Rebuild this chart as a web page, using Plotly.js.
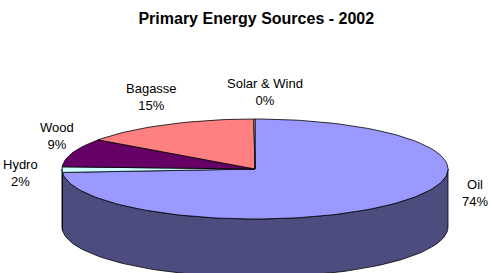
<!DOCTYPE html>
<html>
<head>
<meta charset="utf-8">
<script src="https://cdn.plot.ly/plotly-3.0.1.min.js"></script>
<style>html,body{margin:0;padding:0;background:#fff;}#chart{width:490px;height:273px;}</style>
</head>
<body>
<div id="chart"></div>
<script>
// Data (clockwise from 12 o'clock)
const categories = ["Oil", "Hydro", "Wood", "Bagasse", "Solar & Wind"];
const values = [73.9, 1.8, 9.2, 15.0, 0.1];
const topColors = ["#9999FF", "#CCFFFF", "#660066", "#FF8080", "#FFFFCC"];
const sideColors = ["#4C4C7E", "#668080", "#330033", "#804040", "#808066"];

// Geometry of the pseudo-3D pie (in pixel-like axis units)
const cx = 255, cy = 169, rx = 193, ry = 50, depth = 58;
const total = values.reduce((a, b) => a + b, 0);

function pt(angDeg, dy) {
  const a = angDeg * Math.PI / 180;
  return [cx + rx * Math.cos(a), cy - ry * Math.sin(a) + (dy || 0)];
}

const slices = [];
let start = 90;
values.forEach((v, i) => {
  const sweep = v / total * 360;
  slices.push({ i, a0: start, a1: start - sweep });
  start -= sweep;
});

const traces = [];
// side walls (front half)
slices.forEach(s => {
  const hi = s.a0, lo = s.a1;
  const segs = [];
  for (const k of [-360, 0, 360]) {
    const h = Math.min(hi + k, 0), l = Math.max(lo + k, -180);
    if (h > l) segs.push([h, l]);
  }
  segs.forEach(([h, l]) => {
    const xs = [], ys = [];
    const n = Math.max(2, Math.ceil((h - l) / 2));
    for (let j = 0; j <= n; j++) { const p = pt(h - (h - l) * j / n, 0); xs.push(p[0]); ys.push(p[1]); }
    for (let j = n; j >= 0; j--) { const p = pt(h - (h - l) * j / n, depth); xs.push(p[0]); ys.push(p[1]); }
    xs.push(xs[0]); ys.push(ys[0]);
    traces.push({ type: "scatter", mode: "lines", x: xs, y: ys, fill: "toself",
      fillcolor: sideColors[s.i], line: { color: "#000", width: 0.8 }, hoverinfo: "skip", showlegend: false });
  });
});
// top faces
slices.forEach(s => {
  const xs = [cx], ys = [cy];
  const n = Math.max(2, Math.ceil((s.a0 - s.a1) / 2));
  for (let j = 0; j <= n; j++) { const p = pt(s.a0 - (s.a0 - s.a1) * j / n, 0); xs.push(p[0]); ys.push(p[1]); }
  xs.push(cx); ys.push(cy);
  traces.push({ type: "scatter", mode: "lines", x: xs, y: ys, fill: "toself",
    fillcolor: topColors[s.i], line: { color: "#000", width: 0.8 }, hoverinfo: "skip", showlegend: false });
});

const labelPos = [[475, 193], [20, 173], [57, 136], [151, 97], [265, 92]];
const annotations = categories.map((c, i) => ({
  x: labelPos[i][0], y: labelPos[i][1], xref: "x", yref: "y",
  text: c + "<br>" + Math.round(values[i] / total * 100) + "%",
  showarrow: false, font: { family: "Liberation Sans, Arial, sans-serif", size: 13, color: "#000" },
  align: "center"
}));

const layout = {
  width: 490, height: 273,
  margin: { l: 0, r: 0, t: 0, b: 0 },
  paper_bgcolor: "#fff", plot_bgcolor: "#fff",
  xaxis: { range: [0, 490], visible: false, fixedrange: true },
  yaxis: { range: [273, 0], visible: false, fixedrange: true },
  title: { text: "<b>Primary Energy Sources - 2002</b>", x: 0.523, xanchor: "center",
    y: 1 - 18 / 273, yanchor: "middle", yref: "container",
    font: { family: "Liberation Sans, Arial, sans-serif", size: 16, color: "#000" } },
  annotations: annotations,
  showlegend: false
};

Plotly.newPlot("chart", traces, layout, { staticPlot: true, displayModeBar: false });
</script>
</body>
</html>
